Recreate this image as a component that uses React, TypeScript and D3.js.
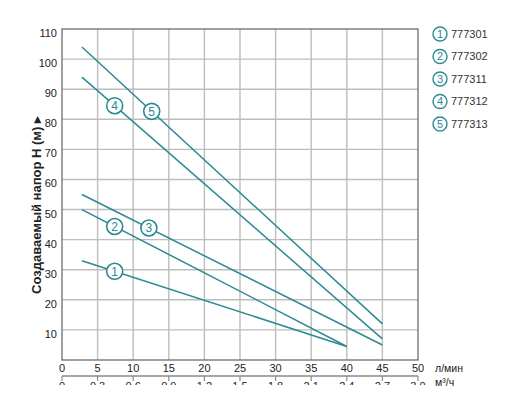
import { useRef, useEffect } from "react";
import * as d3 from "d3";

// flow (л/мин) and head (м) for each pump model
const models = ["777301", "777302", "777311", "777312", "777313"];
const flowStart = [2.8, 2.8, 2.8, 2.8, 2.8];
const flowEnd = [40, 40, 45, 45, 45];
const headStart = [33, 50, 55, 94, 104];
const headEnd = [4.5, 4.5, 5, 7, 12];
// where the numbered marker sits on each curve
const markerFlow = [7.4, 7.4, 12.2, 7.4, 12.6];

const flowTicks = [0, 5, 10, 15, 20, 25, 30, 35, 40, 45, 50];
const m3Ticks = ["0", "0.3", "0.6", "0.9", "1.2", "1.5", "1.8", "2.1", "2.4", "2.7", "3.0"];
const headTicks = [10, 20, 30, 40, 50, 60, 70, 80, 90, 100, 110];

const W = 512;
const H = 417;
const teal = "#2a8a93";
const grid = "#bdbdbd";

export default function App() {
  const svgRef = useRef(null);

  useEffect(() => {
    const svg = d3.select(svgRef.current);
    svg.selectAll("*").remove();

    const x = d3.scaleLinear().domain([0, 50]).range([62, 418]);
    const y = d3.scaleLinear().domain([0, 110]).range([360, 29]);

    const font = "Arial, 'Liberation Sans', sans-serif";

    // grid
    svg.append("g")
      .selectAll("line")
      .data(flowTicks.slice(1, -1))
      .join("line")
      .attr("x1", (d) => x(d))
      .attr("x2", (d) => x(d))
      .attr("y1", y(110))
      .attr("y2", y(0))
      .attr("stroke", grid)
      .attr("stroke-width", 1.4);

    svg.append("g")
      .selectAll("line")
      .data(headTicks.slice(0, -1))
      .join("line")
      .attr("x1", x(0))
      .attr("x2", x(50))
      .attr("y1", (d) => y(d))
      .attr("y2", (d) => y(d))
      .attr("stroke", grid)
      .attr("stroke-width", 1.4);

    // frame
    svg.append("rect")
      .attr("x", x(0))
      .attr("y", y(110))
      .attr("width", x(50) - x(0))
      .attr("height", y(0) - y(110))
      .attr("fill", "none")
      .attr("stroke", "#6e6e6e")
      .attr("stroke-width", 1.3);

    // y tick labels (sit a little below their gridline)
    svg.append("g")
      .selectAll("text")
      .data(headTicks)
      .join("text")
      .attr("x", 57)
      .attr("y", (d) => y(d) + 8)
      .attr("text-anchor", "end")
      .attr("font-family", font)
      .attr("font-size", 11)
      .attr("fill", "#222")
      .text((d) => d);

    // x tick labels
    svg.append("g")
      .selectAll("text")
      .data(flowTicks)
      .join("text")
      .attr("x", (d) => x(d))
      .attr("y", 372)
      .attr("text-anchor", "middle")
      .attr("font-family", font)
      .attr("font-size", 11)
      .attr("fill", "#222")
      .text((d) => d);

    svg.append("text")
      .attr("x", 435)
      .attr("y", 372)
      .attr("font-family", font)
      .attr("font-size", 10.5)
      .attr("fill", "#222")
      .text("л/мин");

    // secondary axis (м³/ч), cut off at the bottom like the source
    svg.append("defs")
      .append("clipPath")
      .attr("id", "cut")
      .append("rect")
      .attr("x", 0)
      .attr("y", 0)
      .attr("width", W)
      .attr("height", 385);

    const sec = svg.append("g").attr("clip-path", "url(#cut)");
    sec.append("line")
      .attr("x1", x(0))
      .attr("x2", x(50))
      .attr("y1", 376)
      .attr("y2", 376)
      .attr("stroke", "#8a8a8a")
      .attr("stroke-width", 1.5);
    sec.selectAll("line.tick")
      .data(m3Ticks)
      .join("line")
      .classed("tick", true)
      .attr("x1", (d, i) => x(flowTicks[i]))
      .attr("x2", (d, i) => x(flowTicks[i]))
      .attr("y1", 376)
      .attr("y2", 381)
      .attr("stroke", "#8a8a8a")
      .attr("stroke-width", 1.2);
    sec.selectAll("text")
      .data(m3Ticks)
      .join("text")
      .attr("x", (d, i) => x(flowTicks[i]))
      .attr("y", 390)
      .attr("text-anchor", "middle")
      .attr("font-family", font)
      .attr("font-size", 11)
      .attr("fill", "#222")
      .text((d) => d);

    svg.append("text")
      .attr("x", 435)
      .attr("y", 386)
      .attr("font-family", font)
      .attr("font-size", 10.5)
      .attr("fill", "#222")
      .text("м³/ч");

    // y title
    svg.append("text")
      .attr("transform", `translate(41,205) rotate(-90)`)
      .attr("text-anchor", "middle")
      .attr("font-family", font)
      .attr("font-size", 13)
      .attr("font-weight", "bold")
      .attr("fill", "#222")
      .text("Создаваемый напор H (м) ▸");

    // curves
    const line = d3.line<[number, number]>()
      .x((d) => x(d[0]))
      .y((d) => y(d[1]));

    const curves = models.map((m, i) => [
      [flowStart[i], headStart[i]],
      [flowEnd[i], headEnd[i]],
    ] as [number, number][]);

    svg.append("g")
      .selectAll("path")
      .data(curves)
      .join("path")
      .attr("d", (d) => line(d))
      .attr("fill", "none")
      .attr("stroke", teal)
      .attr("stroke-width", 1.5);

    // numbered markers on the curves
    const headAt = (i: number, f: number) =>
      headStart[i] + ((headEnd[i] - headStart[i]) * (f - flowStart[i])) / (flowEnd[i] - flowStart[i]);

    const markers = svg.append("g")
      .selectAll("g")
      .data(models)
      .join("g")
      .attr("transform", (d, i) => `translate(${x(markerFlow[i])},${y(headAt(i, markerFlow[i]))})`);
    markers.append("circle")
      .attr("r", 8)
      .attr("fill", "#fff")
      .attr("stroke", teal)
      .attr("stroke-width", 1.6);
    markers.append("text")
      .attr("text-anchor", "middle")
      .attr("dy", "0.36em")
      .attr("font-family", font)
      .attr("font-size", 12)
      .attr("fill", teal)
      .text((d, i) => i + 1);

    // legend
    const legend = svg.append("g")
      .selectAll("g")
      .data(models)
      .join("g")
      .attr("transform", (d, i) => `translate(440,${34 + i * 22.5})`);
    legend.append("circle")
      .attr("r", 7)
      .attr("fill", "#fff")
      .attr("stroke", teal)
      .attr("stroke-width", 1.4);
    legend.append("text")
      .attr("text-anchor", "middle")
      .attr("dy", "0.36em")
      .attr("font-family", font)
      .attr("font-size", 11)
      .attr("fill", teal)
      .text((d, i) => i + 1);
    legend.append("text")
      .attr("x", 11)
      .attr("dy", "0.36em")
      .attr("font-family", font)
      .attr("font-size", 11)
      .attr("fill", "#333")
      .text((d) => d);
  }, []);

  return (
    <svg
      ref={svgRef}
      width={W}
      height={H}
      style={{ position: "absolute", left: 0, top: 0, background: "#fff" }}
    />
  );
}
